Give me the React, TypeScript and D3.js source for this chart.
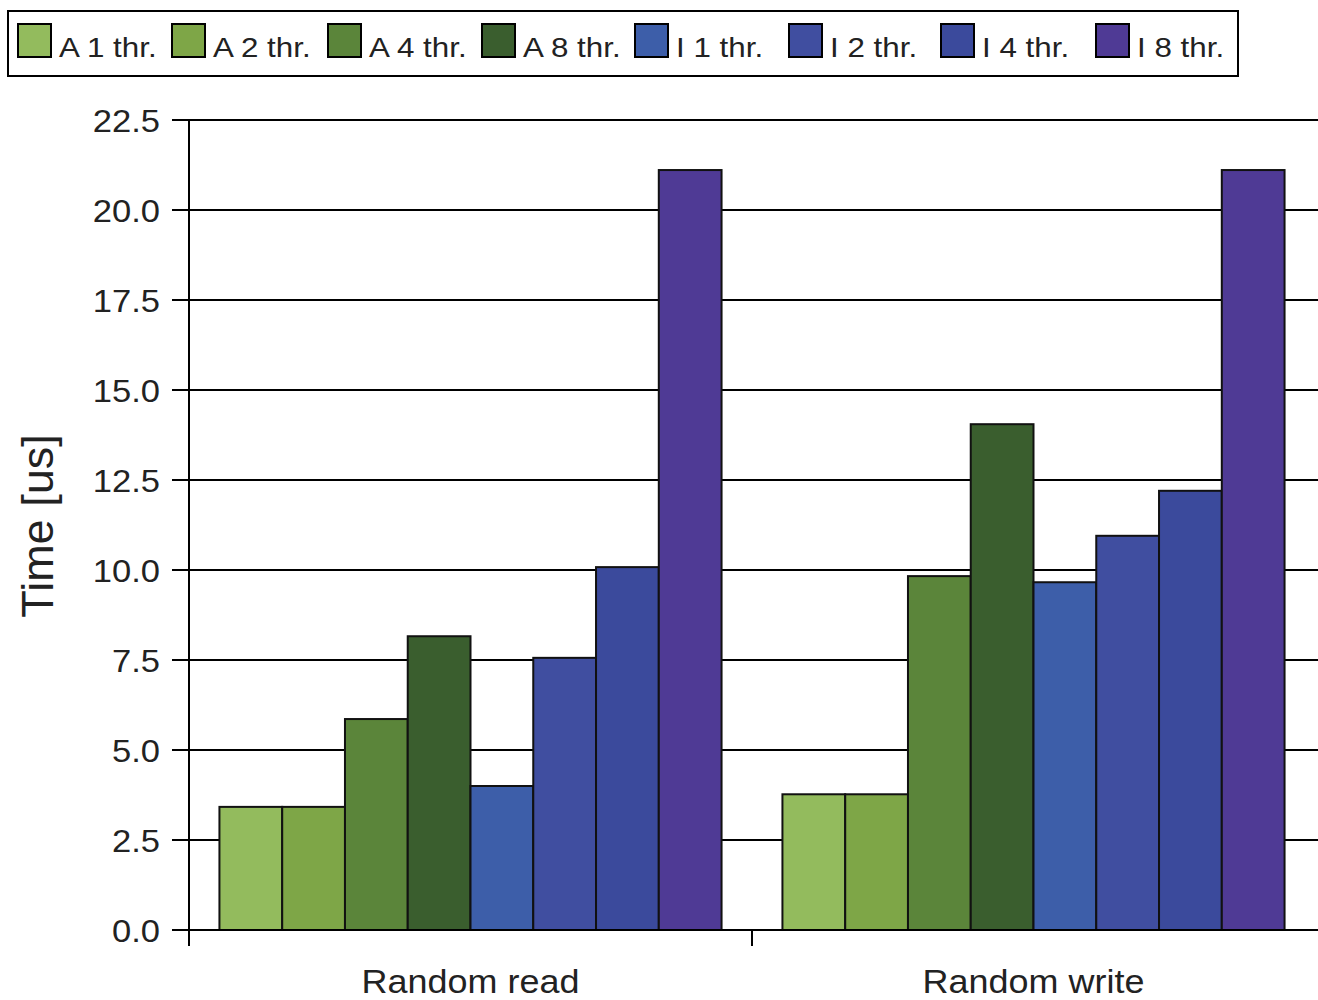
import React from "react";
import * as d3 from "d3";

const categories = ["Random read", "Random write"];
const seriesNames = ["A 1 thr.", "A 2 thr.", "A 4 thr.", "A 8 thr.", "I 1 thr.", "I 2 thr.", "I 4 thr.", "I 8 thr."];
const seriesColors = ["#93bb5d", "#7ea647", "#5b853a", "#3a5e2e", "#3d5ea9", "#404ea0", "#3b4a9c", "#4f3a95"];
const randomRead = [3.42, 3.42, 5.86, 8.16, 4.0, 7.56, 10.08, 21.11];
const randomWrite = [3.77, 3.77, 9.83, 14.05, 9.66, 10.95, 12.2, 21.11];
const values = [randomRead, randomWrite];
const yTicks = [0, 2.5, 5, 7.5, 10, 12.5, 15, 17.5, 20, 22.5];

const W = 1318;
const H = 1000;
const left = 189;
const top = 120;
const bottom = 930;
const font = "'Liberation Sans', Arial, sans-serif";

const legendSwatchX = [18, 172, 328, 482, 635, 789, 941, 1096];

export default function App() {
  const x = d3.scaleBand<string>().domain(categories).range([left, left + 563 * 2]).paddingInner(0).paddingOuter(0);
  const xs = d3.scaleBand<string>().domain(seriesNames).range([0, x.bandwidth()]).paddingInner(0).paddingOuter(0.485);
  const y = d3.scaleLinear().domain([0, 22.5]).range([bottom, top]);

  return (
    <svg width={W} height={H} style={{ position: "absolute", left: 0, top: 0, display: "block", background: "#fff" }}>
      <rect x={0} y={0} width={W} height={H} fill="#fff" />
      {/* legend */}
      <rect x={8} y={11} width={1230} height={65} fill="#fff" stroke="#000" strokeWidth={2} />
      {seriesNames.map((s, i) => (
        <g key={s}>
          <rect x={legendSwatchX[i]} y={24} width={33} height={33} fill={seriesColors[i]} stroke="#000" strokeWidth={2} />
          <g transform={`translate(${legendSwatchX[i] + 41},57) scale(1.12,1)`}>
            <text x={0} y={0} fontFamily={font} fontSize={28} fill="#222">
              {s}
            </text>
          </g>
        </g>
      ))}
      {/* gridlines */}
      {yTicks.map((t) => (
        <line key={t} x1={172} x2={W} y1={y(t)} y2={y(t)} stroke="#000" strokeWidth={2} />
      ))}
      {yTicks.map((t) => (
        <g key={"l" + t} transform={`translate(160,${y(t) + 12}) scale(1.08,1)`}>
          <text x={0} y={0} textAnchor="end" fontFamily={font} fontSize={32} fill="#222">
            {t.toFixed(1)}
          </text>
        </g>
      ))}
      {/* y axis */}
      <line x1={left} x2={left} y1={top} y2={bottom + 16} stroke="#000" strokeWidth={2} />
      {categories.map((c) => (
        <line key={"t" + c} x1={x(c) as number} x2={x(c) as number} y1={bottom} y2={bottom + 16} stroke="#000" strokeWidth={2} />
      ))}
      {/* bars */}
      {categories.map((c, ci) => (
        <g key={c} transform={`translate(${x(c)},0)`}>
          {seriesNames.map((s, si) => (
            <rect
              key={s}
              x={xs(s)}
              y={y(values[ci][si])}
              width={xs.bandwidth()}
              height={bottom - y(values[ci][si])}
              fill={seriesColors[si]}
              stroke="#111"
              strokeWidth={2}
            />
          ))}
        </g>
      ))}
      <line x1={left} x2={W} y1={bottom} y2={bottom} stroke="#000" strokeWidth={2} />
      {categories.map((c) => (
        <g key={"c" + c} transform={`translate(${(x(c) as number) + x.bandwidth() / 2},993) scale(1.09,1)`}>
          <text x={0} y={0} textAnchor="middle" fontFamily={font} fontSize={33} fill="#222">
            {c}
          </text>
        </g>
      ))}
      <text transform={`translate(53,526) rotate(-90)`} textAnchor="middle" fontFamily={font} fontSize={45} fill="#222">
        Time [us]
      </text>
    </svg>
  );
}
